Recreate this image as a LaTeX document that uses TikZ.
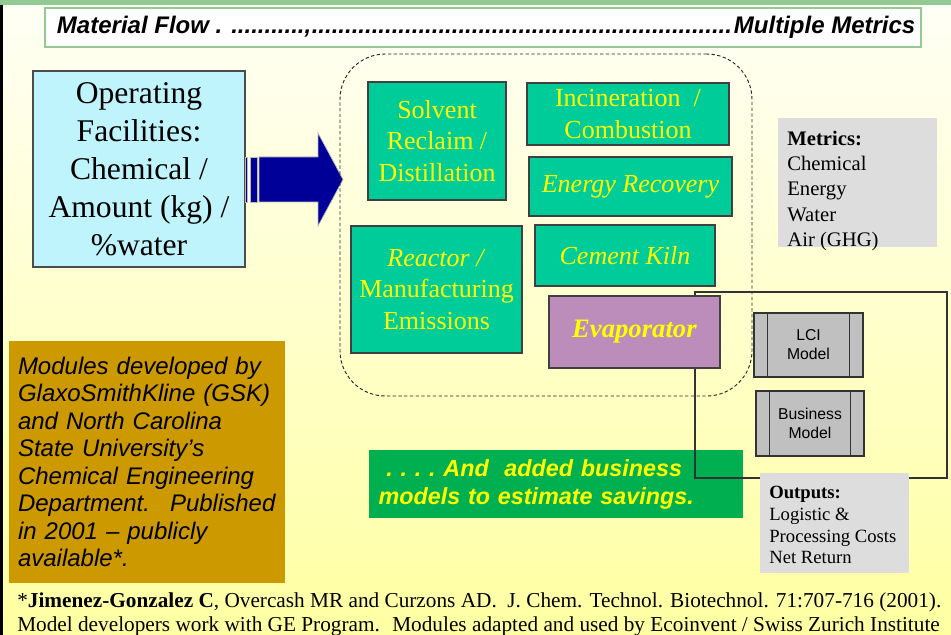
\documentclass[tikz,border=0pt]{standalone}
\usepackage{fontspec}
\setmainfont{Liberation Serif}
\setsansfont{Liberation Sans}
\usetikzlibrary{calc}

\definecolor{bgtop}{HTML}{FFFFF6}
\definecolor{bgbottom}{HTML}{FFFFA2}
\definecolor{bargreen}{HTML}{93C993}
\definecolor{facilcyan}{HTML}{BFF4FC}
\definecolor{unitgreen}{HTML}{00CC99}
\definecolor{unityellow}{HTML}{FFFF00}
\definecolor{evapmauve}{HTML}{BC8CBA}
\definecolor{modelgrey}{HTML}{C0C0C0}
\definecolor{notegrey}{HTML}{DDDDDD}
\definecolor{gskbrown}{HTML}{CC9900}
\definecolor{savegreen}{HTML}{00B050}
\definecolor{arrownavy}{HTML}{000099}

\tikzstyle{titlebox} = [rectangle, draw=bargreen, line width=1pt, fill=white, minimum width=657pt, minimum height=29.25pt, inner xsep=0pt, font=\sffamily\bfseries\itshape\fontsize{18}{21}\selectfont]
\tikzstyle{facility} = [rectangle, draw=black!70, line width=0.8pt, fill=facilcyan, minimum width=159pt, minimum height=147pt, align=center, font=\fontsize{23.7}{28.5}\selectfont]
\tikzstyle{unit} = [rectangle, draw=black!75, line width=0.8pt, fill=unitgreen, text=unityellow, align=center, inner sep=0pt, font=\fontsize{19.5}{23.5}\selectfont]
\tikzstyle{modelbox} = [rectangle, draw=black!80, line width=0.8pt, fill=modelgrey, align=center, font=\sffamily\fontsize{11.8}{14.25}\selectfont,
  path picture={\draw[black!80, line width=0.8pt] ([xshift=10pt]path picture bounding box.north west) -- ([xshift=10pt]path picture bounding box.south west)
    ([xshift=-10pt]path picture bounding box.north east) -- ([xshift=-10pt]path picture bounding box.south east);}]
\tikzstyle{notebox} = [rectangle, fill=notegrey]
\tikzstyle{notetext} = [anchor=north west, align=left, inner sep=0pt, xshift=7pt]
\tikzstyle{arrowbar} = [fill=arrownavy, draw=gray!55, line width=0.5pt]

\begin{document}
\begin{tikzpicture}[x=0.75pt, y=-0.75pt]
            \useasboundingbox (0,0) rectangle (951,635);
            % background
            \shade[top color=bgtop, bottom color=bgbottom] (0,0) rectangle (951,635);
            \fill[bargreen] (0,0) rectangle (951,5);
            \fill[black] (0,5) rectangle (2.5,635);

            \node (title) [titlebox] at (483,27.5) {\hbox to 657pt{\hskip 9pt Material Flow . ...........,\leaders\hbox{.}\hfill Multiple Metrics\hskip 4.5pt}};

            \node (facil) [facility] at (139,169) {Operating\\Facilities:\\Chemical /\\Amount (kg) /\\\%water};

            % big arrow into the plant
            \coordinate (arrowtail) at (259,179.5);
            \coordinate (arrowtip) at (343,179.5);
            \filldraw[arrowbar] (245,157) rectangle (247.5,202);
            \filldraw[arrowbar] (250,157) rectangle (257,202);
            \filldraw[arrowbar] (arrowtail) ++(0,-22.5) -- ++(59,0) -- ++(0,-24) -- (arrowtip) -- ++(-25,46.5) -- ++(0,-24) -- ++(-59,0) -- cycle;

            \node (plant) [draw=black!85, line width=0.7pt, dash pattern=on 2.5pt off 1.8pt, rounded corners=34pt, minimum width=309pt, minimum height=256.5pt] at (546,225) {};

            \node (solvent) [unit, minimum width=103.5pt, minimum height=88.5pt] at (437,141) {Solvent\\Reclaim /\\Distillation};
            \node (incin) [unit, minimum width=151.5pt, minimum height=46.5pt] at (628,114) {Incineration~ /\\Combustion};
            \node (energy) [unit, minimum width=152.25pt, minimum height=44.25pt] at (630.5,186.5) {\textit{Energy Recovery}};
            \node (reactor) [unit, minimum width=128.25pt, minimum height=95.25pt] at (436.5,289.5) {\textit{Reactor /}\\Manufacturing\\Emissions};
            \node (kiln) [unit, minimum width=135pt, minimum height=45.75pt] at (625,255.5) {\textit{Cement Kiln}};

            \node (savings) [rectangle, fill=savegreen, text=unityellow, minimum width=280.5pt, minimum height=51pt, text width=266pt, align=left, font=\sffamily\bfseries\itshape\fontsize{17.5}{21}\selectfont\frenchspacing] at (556,484) {~. . . . And~ added business\\models to estimate savings.};

            \node (frame) [draw=black!80, line width=0.8pt, minimum width=189pt, minimum height=139.5pt] at (821,385) {};

            \node (evap) [unit, fill=evapmauve, minimum width=128.25pt, minimum height=54pt, font=\fontsize{20}{24}\selectfont] at (634.5,332) {\textbf{\textit{Evaporator}}};

            \node (lci) [modelbox, minimum width=81.75pt, minimum height=48pt] at (808.5,345) {LCI\\Model};
            \node (business) [modelbox, minimum width=81pt, minimum height=48.75pt] at (810,423.5) {Business\\Model};

            \node (metrics) [notebox, minimum width=119.25pt, minimum height=96.75pt,
              label={[notetext, yshift=-9.5pt, font=\fontsize{15.5}{19.1}\selectfont]north west:{\textbf{Metrics:}\\Chemical\\Energy\\Water\\Air (GHG)}}] at (857.5,182.5) {};
            \node (outputs) [notebox, minimum width=111.75pt, minimum height=75pt,
              label={[notetext, yshift=-10pt, font=\fontsize{14}{16.3}\selectfont]north west:{\textbf{Outputs:}\\Logistic \&\\Processing Costs\\Net Return}}] at (834.5,523) {};

            \node (gsk) [rectangle, fill=gskbrown, minimum width=207pt, minimum height=181.5pt, text width=193.5pt, align=left, font=\sffamily\itshape\fontsize{18}{20.6}\selectfont] at (147,462) {Modules developed by\\GlaxoSmithKline (GSK)\\and North Carolina\\State University’s\\Chemical Engineering\\Department.~ Published\\in 2001 – publicly\\available*.};

            \node (footer) [anchor=north west, align=left, inner sep=0pt, font=\fontsize{15.95}{18}\selectfont] at (17,592) {*\textbf{Jimenez-Gonzalez C}, Overcash MR and Curzons AD.~ J. Chem. Technol. Biotechnol. 71:707-716 (2001).\\Model developers work with GE Program.~ Modules adapted and used by Ecoinvent / Swiss Zurich Institute};
\end{tikzpicture}
\end{document}
